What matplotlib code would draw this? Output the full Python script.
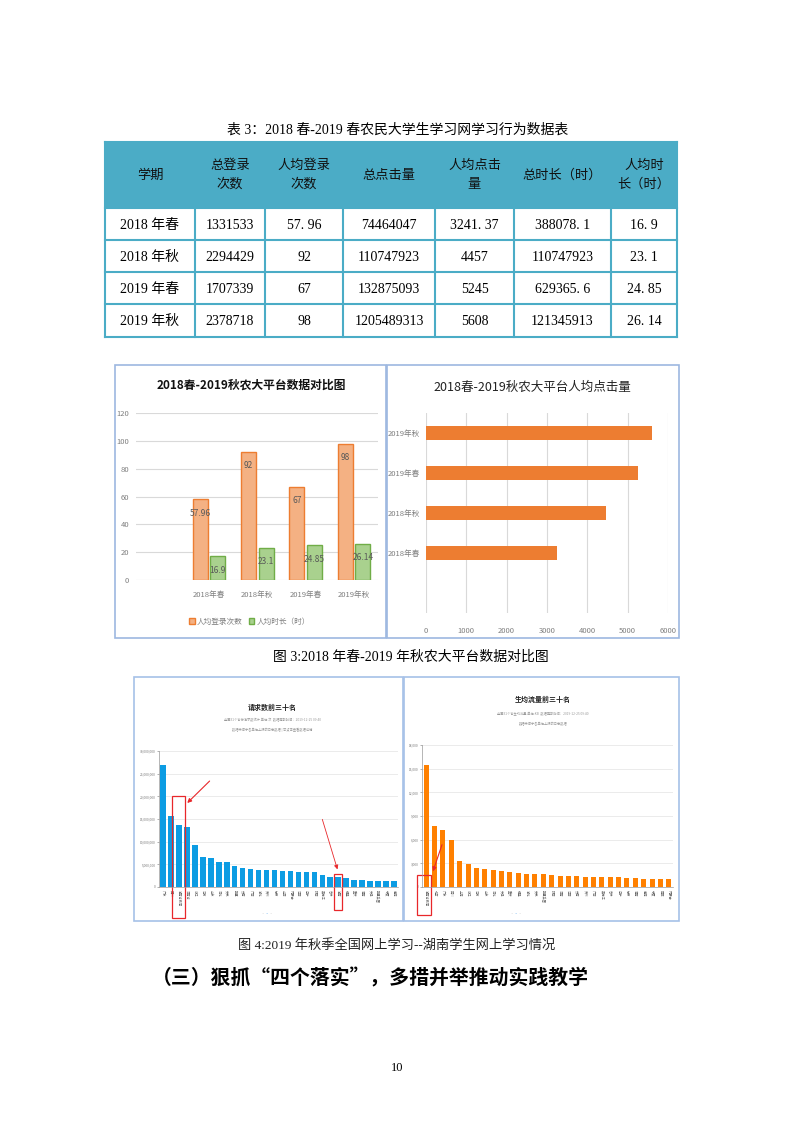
import numpy as np
import matplotlib
matplotlib.use('Agg')
import matplotlib.pyplot as plt
from matplotlib.patches import Rectangle
from matplotlib.ticker import FuncFormatter

plt.rcParams['font.family'] = ['Noto Sans CJK SC', 'DejaVu Sans']

# 表3 / 图3 data
terms = ['2018年春', '2018年秋', '2019年春', '2019年秋']
total_login = [1331533, 2294429, 1707339, 2378718]
avg_login = [57.96, 92, 67, 98]
total_click = [74464047, 110747923, 132875093, 1205489313]
avg_click = [3241.37, 4457, 5245, 5608]
total_hours = [388078.1, 110747923, 629365.6, 121345913]
avg_hours = [16.9, 23.1, 24.85, 26.14]
headers = ['学期', '总登录\n次数', '人均登录\n次数', '总点击量', '人均点击\n量',
           '总时长（时）', '人均时\n长（时）']

# 图4 data
req_names = ['广东', '四川', '湖南省教育', '河南省', '浙江', '江苏', '山东', '河北', '安徽',
             '新疆', '云南', '广西', '湖北', '贵州', '甘肃', '山西', '内蒙古', '江西',
             '辽宁', '陕西', '黑龙江', '吉林', '湖南', '福建', '重庆', '海南', '天津',
             '新疆兵团', '宁夏', '青海']
req_counts = [27000000, 15700000, 13600000, 13300000, 9200000, 6600000, 6300000,
              5600000, 5500000, 4600000, 4100000, 4000000, 3800000, 3760000, 3760000,
              3600000, 3500000, 3200000, 3200000, 3200000, 2600000, 2300000, 2300000,
              2000000, 1600000, 1600000, 1400000, 1400000, 1300000, 1300000]
flow_names = ['湖南省教育', '北京', '广东', '四川', '上海', '浙江', '江苏', '山东', '河北',
              '天津', '重庆', '福建', '湖北', '安徽', '新疆兵团', '陕西', '河南', '江西',
              '云南', '贵州', '广西', '黑龙江', '吉林', '辽宁', '甘肃', '海南', '青海',
              '宁夏', '西藏', '内蒙古']
flow_values = [15470, 7700, 7200, 5900, 3260, 2920, 2370, 2330, 2160, 2030, 1860, 1820,
               1700, 1700, 1650, 1570, 1440, 1440, 1360, 1310, 1310, 1270, 1270, 1230,
               1190, 1100, 1060, 1020, 970, 970]

W, H = 793, 1122
SERIF = ['Liberation Serif', 'Noto Sans CJK SC']


def rect(x0, y0, x1, y1):
    return [x0 / W, 1 - y1 / H, (x1 - x0) / W, (y1 - y0) / H]


def fmt(v):
    return str(v).replace('.', '. ')


fig = plt.figure(figsize=(W / 100, H / 100), dpi=100)
pg = fig.add_axes([0, 0, 1, 1])
pg.set_xlim(0, W)
pg.set_ylim(H, 0)
pg.axis('off')
pg.set_zorder(3)

# ---- table 3 ----
pg.text(398, 130, '表 3：2018 春-2019 春农民大学生学习网学习行为数据表',
        ha='center', va='center', fontsize=10, family=SERIF)
col_x = [105, 195, 265, 343, 435, 514, 611, 677]
row_y = [142, 208, 240, 272, 304, 337]
teal = '#4BACC6'
pg.add_patch(Rectangle((col_x[0], row_y[0]), col_x[-1] - col_x[0], row_y[1] - row_y[0],
                       facecolor=teal, edgecolor='none'))
for yy in row_y:
    pg.plot([col_x[0], col_x[-1]], [yy, yy], color=teal, lw=1.5)
for i, xx in enumerate(col_x):
    top = row_y[0] if i in (0, len(col_x) - 1) else row_y[1]
    pg.plot([xx, xx], [top, row_y[-1]], color=teal, lw=1.5)
for j, h in enumerate(headers):
    pg.text((col_x[j] + col_x[j + 1]) / 2, (row_y[0] + row_y[1]) / 2, h,
            ha='center', va='center', fontsize=9.5, linespacing=1.6, color='#111111')
rows = list(zip([t[:4] + ' ' + t[4:] for t in terms], total_login, avg_login,
                total_click, avg_click, total_hours, avg_hours))
for i, r in enumerate(rows):
    for j, v in enumerate(r):
        pg.text((col_x[j] + col_x[j + 1]) / 2, (row_y[i + 1] + row_y[i + 2]) / 2 + 1,
                fmt(v), ha='center', va='center', fontsize=10, family=SERIF)

# ---- figure 3 panels ----
pg.add_patch(Rectangle((115, 365), 271, 273, fill=False, edgecolor='#9DB8E0', lw=1.2))
pg.add_patch(Rectangle((387, 365), 292, 273, fill=False, edgecolor='#9DB8E0', lw=1.2))
pg.text(251, 385, '2018春-2019秋农大平台数据对比图', ha='center', va='center',
        fontsize=8.5, fontweight='bold', color='#111111')
pg.text(532, 387, '2018春-2019秋农大平台人均点击量', ha='center', va='center',
        fontsize=9, color='#222222')

x = np.arange(len(terms))
ax1 = fig.add_axes(rect(136, 413, 378, 580))
b1 = ax1.bar(x - 0.175, avg_login, 0.31, color='#F4B183', edgecolor='#ED7D31', lw=1,
             label='人均登录次数')
b2 = ax1.bar(x + 0.19, avg_hours, 0.31, color='#A9D18E', edgecolor='#70AD47', lw=1,
             label='人均时长（时）')
for bars, vals in ((b1, avg_login), (b2, avg_hours)):
    for b, v in zip(bars, vals):
        ax1.annotate(str(v), (b.get_x() + b.get_width() / 2, v), xytext=(0, -10),
                     textcoords='offset points', ha='center', va='center',
                     fontsize=6, color='#595959')
ax1.set_xlim(-1.5, 3.5)
ax1.set_ylim(0, 120)
ax1.set_yticks(range(0, 121, 20))
ax1.set_xticks(x, terms)
ax1.grid(axis='y', color='#D9D9D9', lw=0.8)
ax1.set_axisbelow(True)
for s in ax1.spines.values():
    s.set_visible(False)
ax1.tick_params(length=0, labelsize=5.5, colors='#7F7F7F')
ax1.tick_params(axis='x', pad=8)
ax1.tick_params(axis='y', pad=5)
ax1.patch.set_alpha(0)
ax1.legend(loc='center', bbox_to_anchor=(0.47, -0.25), ncol=2, frameon=False,
           fontsize=5.5, handlelength=0.7, handleheight=0.7, handletextpad=0.3,
           columnspacing=0.8, labelcolor='#7F7F7F')

ax2 = fig.add_axes(rect(426, 413, 668, 613))
ax2.barh(x, avg_click, 0.33, color='#ED7D31')
ax2.set_xlim(0, 6000)
ax2.set_ylim(-1.5, 3.5)
ax2.set_xticks(range(0, 6001, 1000))
ax2.set_yticks(x, terms)
ax2.grid(axis='x', color='#D9D9D9', lw=0.8)
ax2.set_axisbelow(True)
for s in ax2.spines.values():
    s.set_visible(False)
ax2.tick_params(length=0, labelsize=5.5, colors='#7F7F7F')
ax2.tick_params(axis='x', pad=10)
ax2.tick_params(axis='y', pad=4)
ax2.patch.set_alpha(0)

pg.text(411, 657, '图 3:2018 年春-2019 年秋农大平台数据对比图', ha='center', va='center',
        fontsize=10, family=SERIF)

# ---- figure 4 panels ----
pg.add_patch(Rectangle((134, 677), 269, 244, fill=False, edgecolor='#A6C1E8', lw=1.2))
pg.add_patch(Rectangle((404, 677), 275, 244, fill=False, edgecolor='#A6C1E8', lw=1.2))
pg.text(272, 707, '请求数前三十名', ha='center', va='center', fontsize=5,
        fontweight='bold', color='#222222')
pg.text(272, 720, '全国31个省份请求数统计 单位:次  数据更新时间：2019-12-25 09:40',
        ha='center', va='center', fontsize=2.3, color='#999999')
pg.text(272, 730, '数据来源于各单位上报的日志数据 | 可点击查看数据详情',
        ha='center', va='center', fontsize=2.3, color='#999999')
pg.text(543, 699, '生均流量前三十名', ha='center', va='center', fontsize=5,
        fontweight='bold', color='#222222')
pg.text(543, 714, '全国31个省生均流量 单位:KB  数据更新时间：2019-12-25 09:40',
        ha='center', va='center', fontsize=2.3, color='#999999')
pg.text(543, 724, '数据来源于各单位上报的日志数据', ha='center', va='center',
        fontsize=2.3, color='#999999')

n = np.arange(len(req_counts))


def small_axes(ax, top):
    ax.set_xlim(-0.5, len(n) - 0.5)
    ax.set_ylim(0, top)
    ax.grid(axis='y', color='#E3E3E3', lw=0.5)
    ax.set_axisbelow(True)
    for k in ('top', 'right'):
        ax.spines[k].set_visible(False)
    for k in ('left', 'bottom'):
        ax.spines[k].set_color('#999999')
        ax.spines[k].set_linewidth(0.5)
    ax.yaxis.set_major_formatter(FuncFormatter(lambda v, p: f'{int(v):,}'))
    ax.tick_params(axis='y', length=1.5, width=0.4, labelsize=2.3, colors='#777777', pad=1)
    ax.tick_params(axis='x', length=0, labelsize=2.3, colors='#666666', pad=2)
    ax.patch.set_alpha(0)


ax3 = fig.add_axes(rect(159, 751, 398, 887))
ax3.bar(n, req_counts, 0.7, color='#0C9CE3')
small_axes(ax3, 30000000)
ax3.set_yticks(range(0, 30000001, 5000000))
ax3.set_xticks(n, req_names, rotation=270, va='top')
red = '#E8272A'
ax3.add_patch(Rectangle((2 - 0.82, -6800000), 1.64, 26800000, fill=False, edgecolor=red,
                        lw=0.9, clip_on=False))
ax3.add_patch(Rectangle((21.5, -5100000), 1.0, 8000000, fill=False, edgecolor=red,
                        lw=0.9, clip_on=False))
ax3.annotate('', xy=(2.8, 18100000), xytext=(6.1, 23800000),
             arrowprops=dict(arrowstyle='-|>', color=red, lw=0.8, mutation_scale=6),
             annotation_clip=False)
ax3.annotate('', xy=(22.0, 3300000), xytext=(19.9, 15500000),
             arrowprops=dict(arrowstyle='-|>', color=red, lw=0.6, mutation_scale=6),
             annotation_clip=False)

ax4 = fig.add_axes(rect(422, 745, 673, 887))
ax4.bar(n, flow_values, 0.6, color='#FF8000')
small_axes(ax4, 18000)
ax4.set_yticks(range(0, 18001, 3000))
ax4.set_xticks(n, flow_names, rotation=270, va='top')
ax4.add_patch(Rectangle((-1.05, -3550), 1.65, 5070, fill=False, edgecolor=red,
                        lw=0.9, clip_on=False))
ax4.annotate('', xy=(0.7, 1650), xytext=(2.0, 5700),
             arrowprops=dict(arrowstyle='-|>', color=red, lw=0.8, mutation_scale=6),
             annotation_clip=False)

for cx in (266, 515):
    pg.text(cx - 4, 914, '•', ha='center', va='center', fontsize=3, color='#BBBBBB')
    pg.text(cx, 914, '•', ha='center', va='center', fontsize=3, color='#1E88E5')
    pg.text(cx + 4, 914, '•', ha='center', va='center', fontsize=3, color='#BBBBBB')

pg.text(397, 946, '图 4:2019 年秋季全国网上学习--湖南学生网上学习情况', ha='center',
        va='center', fontsize=9.5, family=SERIF, color='#222222')
pg.text(152, 978, '（三）狠抓“四个落实”，多措并举推动实践教学', ha='left', va='center',
        fontsize=14.3, fontweight='bold', color='#000000')
pg.text(397, 1068, '10', ha='center', va='center', fontsize=9, family=SERIF)

fig.savefig('out.png', dpi=100)
